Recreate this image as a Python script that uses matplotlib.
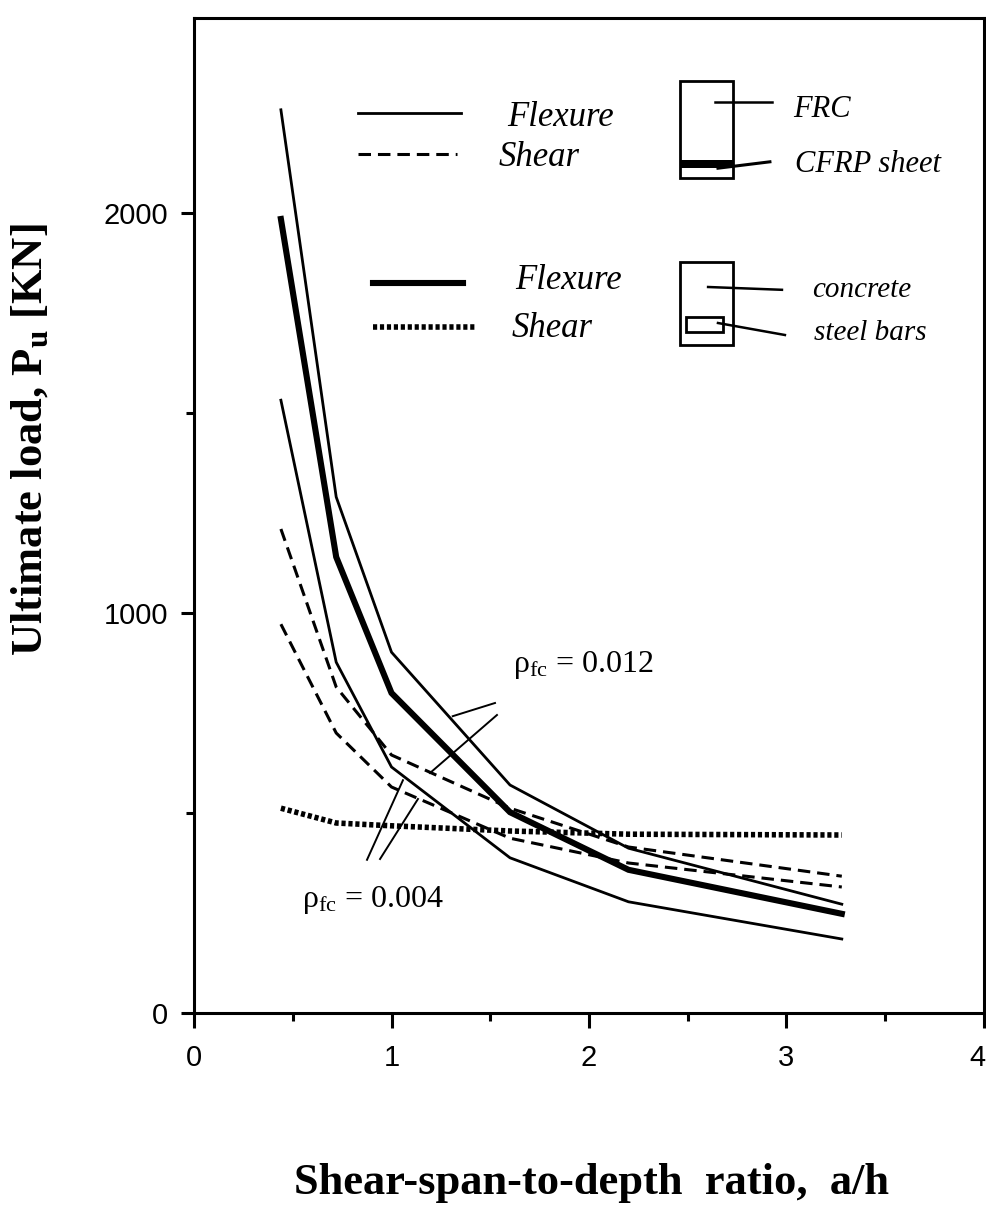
import matplotlib
matplotlib.use("Agg")
import matplotlib.pyplot as plt
import matplotlib.transforms as mtransforms
from matplotlib.patches import Rectangle

plt.rcParams["mathtext.fontset"] = "custom"
plt.rcParams["mathtext.rm"] = "Liberation Serif"
plt.rcParams["mathtext.it"] = "Liberation Serif:italic"
plt.rcParams["mathtext.bf"] = "Liberation Serif:bold"
plt.rcParams["lines.scale_dashes"] = False

# Shear-span-to-depth ratios of the analysed beams
ratio_ah = [0.44, 0.72, 1.0, 1.6, 2.2, 3.28]

# Ultimate loads [kN]
frc_flexure_012 = [2258, 1290, 902, 570, 412, 272]
frc_flexure_004 = [1532, 877, 615, 388, 278, 185]
frc_shear_012 = [1210, 815, 645, 512, 415, 342]
frc_shear_004 = [972, 700, 565, 437, 375, 315]
rc_flexure = [1985, 1140, 800, 502, 358, 248]
rc_shear = [512, 475, 468, 455, 447, 445]

x_ticks = [0, 1, 2, 3, 4]
x_minor = [0.5, 1.5, 2.5, 3.5]
y_ticks = [0, 1000, 2000]
y_minor = [500, 1500]

W, H = 986, 1231
fig = plt.figure(figsize=(W / 100, H / 100), dpi=100)
ax = fig.add_axes([194 / W, 218 / H, 790 / W, 995 / H])
ax.set_xlim(0, 4)
ax.set_ylim(0, 2487.5)

thin = 2.0
thick = 4.4
dash = (9.0, 5.0)
dot = (3.0, 2.0)

ax.plot(ratio_ah, frc_flexure_012, color="black", lw=thin, solid_joinstyle="miter")
ax.plot(ratio_ah, frc_flexure_004, color="black", lw=thin, solid_joinstyle="miter")
ax.plot(ratio_ah, frc_shear_012, color="black", lw=2.2, ls=(0, dash))
ax.plot(ratio_ah, frc_shear_004, color="black", lw=2.2, ls=(0, dash))
ax.plot(ratio_ah, rc_shear, color="black", lw=4.0, ls=(0, dot))
ax.plot(ratio_ah, rc_flexure, color="black", lw=thick, solid_joinstyle="miter")

# axes styling
for s in ax.spines.values():
    s.set_linewidth(2.2)
ax.set_xticks(x_ticks)
ax.set_xticks(x_minor, minor=True)
ax.set_yticks(y_ticks)
ax.set_yticks(y_minor, minor=True)
ax.set_xticklabels([str(v) for v in x_ticks])
ax.set_yticklabels([str(v) for v in y_ticks])
ax.tick_params(axis="x", which="major", direction="out", length=11, width=2.2, pad=11,
               labelsize=21)
ax.tick_params(axis="y", which="major", direction="out", length=9.5, width=2.2, pad=9,
               labelsize=21)
ax.tick_params(which="minor", direction="out", length=5.5, width=2.2)
for lab in ax.get_xticklabels() + ax.get_yticklabels():
    lab.set_fontfamily("Liberation Sans")
# keep the last x label inside the figure edge
last = ax.get_xticklabels()[-1]
last.set_transform(last.get_transform()
                   + mtransforms.ScaledTranslation(-5 / 72, 0, fig.dpi_scale_trans))

# axis titles
fig.text(591 / W, 1 - 1183 / H, "Shear-span-to-depth  ratio,  a/h",
         ha="center", va="center", fontsize=32, fontweight="bold",
         family="Liberation Serif")
fig.text(30 / W, 1 - 440 / H, r"Ultimate load, P$_{\mathbf{u}}$ [KN]",
         ha="center", va="center", rotation=90, fontsize=32, fontweight="bold",
         family="Liberation Serif")

# legend drawn inside the plot area
ital = dict(family="Liberation Serif", style="italic", va="center", ha="left")
ax.plot([0.83, 1.35], [2250, 2250], color="black", lw=thin)
ax.text(1.585, 2240, "Flexure", fontsize=25, **ital)
ax.plot([0.83, 1.33], [2148, 2148], color="black", lw=2.2, ls=(0, dash))
ax.text(1.54, 2138, "Shear", fontsize=25, **ital)
ax.plot([0.906, 1.362], [1825, 1825], color="black", lw=thick)
ax.text(1.625, 1832, "Flexure", fontsize=25, **ital)
ax.plot([0.906, 1.423], [1715, 1715], color="black", lw=4.0, ls=(0, dot))
ax.text(1.61, 1712, "Shear", fontsize=25, **ital)

# FRC section sketch
ax.add_patch(Rectangle((2.46, 2088), 0.27, 242, fill=False, lw=2.0, ec="black"))
ax.add_patch(Rectangle((2.46, 2112), 0.27, 20, fill=True, lw=0, fc="black"))
ax.plot([2.638, 2.927], [2278, 2278], color="black", lw=1.8)
ax.plot([2.653, 2.916], [2112, 2128], color="black", lw=2.2)
ax.text(3.033, 2258, "FRC", fontsize=22, **ital)
ax.text(3.043, 2120, "CFRP sheet", fontsize=22, **ital)

# RC section sketch
ax.add_patch(Rectangle((2.46, 1670), 0.27, 208, fill=False, lw=2.0, ec="black"))
ax.add_patch(Rectangle((2.49, 1703), 0.19, 37, fill=False, lw=2.0, ec="black"))
ax.plot([2.603, 2.977], [1815, 1808], color="black", lw=1.8)
ax.plot([2.653, 2.992], [1725, 1695], color="black", lw=1.8)
ax.text(3.129, 1808, "concrete", fontsize=21, **ital)
ax.text(3.139, 1700, "steel bars", fontsize=21, **ital)

# reinforcement ratio labels with leaders
rho = dict(family="Liberation Serif", fontsize=23, va="center", ha="left")
ax.text(1.617, 870, r"ρ$_{\mathrm{fc}}$ = 0.012", **rho)
ax.text(0.547, 283, r"ρ$_{\mathrm{fc}}$ = 0.004", **rho)
lead = dict(color="black", lw=1.4)
ax.plot([1.524, 1.31], [775, 742], **lead)
ax.plot([1.534, 1.195], [745, 600], **lead)
ax.plot([0.876, 1.058], [383, 582], **lead)
ax.plot([0.942, 1.134], [385, 535], **lead)

fig.savefig("out.png", dpi=100, facecolor="white")
